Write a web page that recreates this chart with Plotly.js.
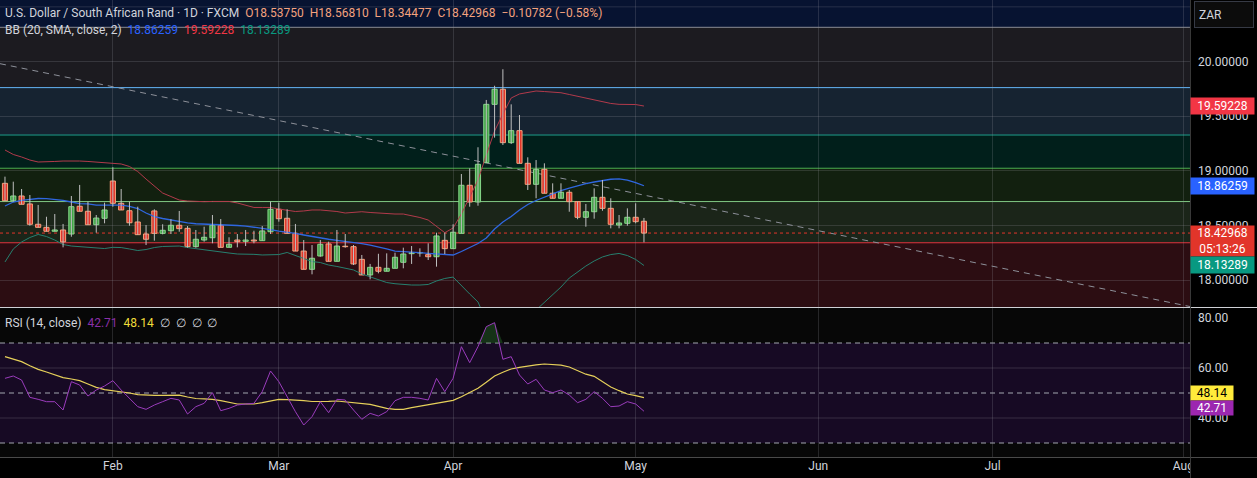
<!DOCTYPE html>
<html><head><meta charset="utf-8">
<script src="https://cdn.plot.ly/plotly-3.0.1.min.js"></script>
<style>html,body{margin:0;padding:0;background:#000;}#chart{width:1257px;height:478px;}</style>
</head><body><div id="chart"></div>
<script>
// ---------- DATA ----------
const dates = ['2025-01-15','2025-01-16','2025-01-17','2025-01-20','2025-01-21','2025-01-22','2025-01-23','2025-01-24','2025-01-27','2025-01-28','2025-01-29','2025-01-30','2025-01-31',
'2025-02-03','2025-02-04','2025-02-05','2025-02-06','2025-02-07','2025-02-10','2025-02-11','2025-02-12','2025-02-13','2025-02-14','2025-02-17','2025-02-18','2025-02-19','2025-02-20','2025-02-21','2025-02-24','2025-02-25','2025-02-26','2025-02-27','2025-02-28',
'2025-03-03','2025-03-04','2025-03-05','2025-03-06','2025-03-07','2025-03-10','2025-03-11','2025-03-12','2025-03-13','2025-03-14','2025-03-17','2025-03-18','2025-03-19','2025-03-20','2025-03-21','2025-03-24','2025-03-25','2025-03-26','2025-03-27','2025-03-28','2025-03-31',
'2025-04-01','2025-04-02','2025-04-03','2025-04-04','2025-04-07','2025-04-08','2025-04-09','2025-04-10','2025-04-11','2025-04-14','2025-04-15','2025-04-16','2025-04-17','2025-04-18','2025-04-21','2025-04-22','2025-04-23','2025-04-24','2025-04-25','2025-04-28','2025-04-29','2025-04-30',
'2025-05-01','2025-05-02'];

const open = [18.885,18.726,18.769,18.696,18.510,18.482,18.446,18.458,18.421,18.675,
18.629,18.506,18.565,18.906,18.702,18.634,18.531,18.421,18.632,18.427,
18.451,18.501,18.473,18.305,18.366,18.387,18.501,18.299,18.366,18.354,
18.366,18.360,18.442,18.647,18.565,18.427,18.265,18.098,18.220,18.330,
18.171,18.308,18.305,18.189,18.046,18.116,18.080,18.107,18.162,18.241,
18.247,18.232,18.213,18.363,18.287,18.427,18.867,18.714,19.074,19.608,
19.746,19.257,19.367,19.068,18.876,19.013,18.794,18.748,18.803,18.717,
18.574,18.625,18.757,18.656,18.503,18.519,18.574,18.5375];
const high = [18.946,18.900,18.833,18.778,18.687,18.579,18.604,18.513,18.769,18.870,
18.717,18.595,18.708,19.032,18.833,18.717,18.671,18.503,18.647,18.510,
18.556,18.632,18.494,18.458,18.488,18.595,18.558,18.391,18.421,18.458,
18.451,18.494,18.717,18.708,18.647,18.513,18.366,18.320,18.366,18.351,
18.458,18.421,18.320,18.229,18.147,18.240,18.244,18.250,18.296,18.311,
18.290,18.336,18.433,18.433,18.510,18.970,19.022,19.215,19.648,19.778,
19.929,19.608,19.510,19.123,19.098,19.068,18.885,18.885,18.824,18.717,
18.696,18.839,18.915,18.748,18.595,18.656,18.702,18.5681];
const low = [18.726,18.717,18.693,18.497,18.482,18.446,18.446,18.299,18.396,18.629,
18.506,18.433,18.519,18.671,18.641,18.497,18.415,18.320,18.360,18.418,
18.421,18.442,18.296,18.296,18.351,18.336,18.299,18.299,18.299,18.311,
18.336,18.360,18.421,18.534,18.427,18.265,18.098,18.052,18.213,18.171,
18.171,18.296,18.137,18.046,18.006,18.061,18.080,18.107,18.107,18.147,
18.213,18.183,18.122,18.238,18.287,18.427,18.671,18.680,19.074,19.303,
19.236,19.245,19.068,18.824,18.748,18.794,18.748,18.748,18.625,18.556,
18.488,18.561,18.634,18.473,18.473,18.497,18.519,18.34477];
const close = [18.726,18.769,18.693,18.510,18.482,18.446,18.458,18.349,18.671,18.629,
18.506,18.567,18.641,18.702,18.641,18.524,18.415,18.373,18.427,18.455,
18.501,18.470,18.305,18.373,18.391,18.501,18.299,18.327,18.351,18.366,
18.357,18.449,18.647,18.561,18.427,18.265,18.098,18.199,18.327,18.171,
18.311,18.305,18.147,18.046,18.116,18.080,18.107,18.208,18.238,18.250,
18.248,18.213,18.403,18.287,18.437,18.867,18.714,19.059,19.608,19.746,
19.257,19.367,19.068,18.876,19.013,18.794,18.748,18.803,18.717,18.574,
18.625,18.757,18.656,18.510,18.522,18.574,18.534,18.42968];

const bbUpper = [19.190,19.149,19.126,19.098,19.080,19.080,19.085,19.089,19.092,19.089,
19.085,19.080,19.076,19.071,19.062,19.039,18.993,18.924,18.860,18.796,
18.764,18.732,18.723,18.719,18.717,18.719,18.720,18.719,18.705,18.686,
18.664,18.664,18.664,18.650,18.636,18.627,18.632,18.641,18.641,18.636,
18.627,18.613,18.618,18.625,18.618,18.611,18.609,18.604,18.604,18.590,
18.572,18.549,18.490,18.433,18.476,18.604,18.760,18.915,19.144,19.364,
19.519,19.666,19.703,19.718,19.730,19.725,19.721,19.714,19.698,19.682,
19.666,19.648,19.629,19.616,19.608,19.608,19.606,19.59228];
const bbBasis = [18.677,18.714,18.728,18.737,18.746,18.744,18.739,18.728,18.714,18.700,
18.696,18.686,18.686,18.686,18.686,18.673,18.654,18.613,18.581,18.563,
18.549,18.535,18.522,18.515,18.513,18.509,18.506,18.503,18.499,18.494,
18.485,18.473,18.462,18.448,18.439,18.426,18.412,18.398,18.384,18.373,
18.363,18.355,18.343,18.332,18.320,18.305,18.284,18.265,18.258,18.254,
18.250,18.244,18.238,18.233,18.229,18.261,18.297,18.334,18.384,18.467,
18.531,18.581,18.641,18.691,18.728,18.760,18.792,18.819,18.842,18.863,
18.882,18.897,18.911,18.922,18.926,18.915,18.892,18.86259];
const bbLower = [18.165,18.284,18.348,18.389,18.417,18.398,18.366,18.325,18.311,18.305,
18.297,18.290,18.288,18.299,18.297,18.284,18.270,18.279,18.297,18.307,
18.308,18.311,18.297,18.286,18.276,18.267,18.258,18.247,18.238,18.238,
18.235,18.229,18.233,18.233,18.252,18.224,18.197,18.169,18.160,18.137,
18.124,18.110,18.092,18.055,18.027,18.000,17.977,17.966,17.959,17.954,
17.954,17.959,17.991,18.014,18.027,17.945,17.872,17.799,17.625,17.570,
17.538,17.497,17.579,17.664,17.725,17.795,17.863,17.936,18.018,18.073,
18.128,18.174,18.211,18.233,18.243,18.224,18.188,18.13289];

const rsi = [55.87,56.80,55.20,48.27,47.47,46.53,46.53,43.20,54.53,53.20,
48.80,51.20,52.80,54.93,51.20,47.87,44.53,43.47,45.20,46.53,
47.87,47.20,41.60,44.53,45.87,50.13,42.93,43.87,45.20,45.60,
45.87,50.53,58.80,54.53,48.27,42.53,37.20,40.53,46.53,42.13,
47.47,47.20,43.20,39.47,41.87,40.80,42.53,46.93,48.27,48.27,
47.87,47.20,55.87,50.53,55.87,68.53,62.13,68.53,76.53,78.13,
63.47,64.53,57.20,53.60,55.47,51.20,50.13,51.20,49.20,46.13,
47.47,50.53,47.87,44.53,44.80,46.53,45.60,42.71];
const rsiMA = [64.53,63.47,62.53,60.93,59.47,58.40,57.20,56.13,55.60,54.93,
53.60,52.27,51.33,50.93,50.53,50.00,49.33,49.07,49.07,49.07,
49.13,49.13,48.40,47.80,47.67,47.47,46.93,46.13,45.60,45.60,
45.60,46.13,46.93,47.47,47.33,47.20,46.93,46.60,46.53,46.67,
46.80,46.53,46.07,45.73,45.47,44.67,43.87,43.47,43.47,44.13,
44.73,45.27,45.80,46.40,47.07,48.53,50.13,51.87,54.27,56.80,
58.33,59.60,60.27,60.87,61.27,61.60,61.47,61.13,60.40,59.07,
57.53,56.67,54.67,52.40,50.93,49.60,48.93,48.14];

// Fibonacci retracement levels (price) and the drawn trend line (price at left / right edge)
const fibLevels = [17.732, 18.341, 18.718, 19.023, 19.327, 19.761, 20.313];
const trendStart = 19.980, trendEnd = 17.757;

const monthTicks = ['2025-02-03','2025-03-03','2025-04-01','2025-05-01','2025-06-02','2025-07-01','2025-08-01'];
const monthLabels = ['Feb','Mar','Apr','May','Jun','Jul','Aug'];
const priceTicks = [18, 18.5, 19, 19.5, 20];
const hiddenGrid = [20.5];
const rsiTicks = [40, 60, 80];
const countdown = '05:13:26';

// ---------- STYLE ----------
const FONT = 'Roboto, "Open Sans", sans-serif';
const TXT = '#d1d4dc';
const upFill = '#43a348', upLine = '#86d889', dnFill = '#e2352a', dnLine = '#f6a27c';
const bandFill = ['#2c0d12','#1b2519','#12200f','#011f1b','#162331','#1c1b20'];
const fibLine  = ['#787b86','#e0343f','#81c784','#4caf50','#1e9c8a','#64b5f6','#8a8d96'];
const gridC = 'rgba(150,150,160,0.22)';

const n = dates.length;
const last = n - 1;

// wicks
const wx = [], wy = [];
for (let i = 0; i < n; i++) { wx.push(dates[i], dates[i], null); wy.push(low[i], high[i], null); }
const isUp = close.map((c, i) => c >= open[i]);

const traces = [
  {x: dates, y: bbUpper, type:'scatter', mode:'lines', line:{color:'#b23a4b', width:1}, xaxis:'x', yaxis:'y', hoverinfo:'skip'},
  {x: dates, y: bbBasis, type:'scatter', mode:'lines', line:{color:'#2f67e0', width:1.3}, xaxis:'x', yaxis:'y', hoverinfo:'skip'},
  {x: dates, y: bbLower, type:'scatter', mode:'lines', line:{color:'#26806f', width:1}, xaxis:'x', yaxis:'y', hoverinfo:'skip'},
  {x: wx, y: wy, type:'scatter', mode:'lines', line:{color:'#bfbfbf', width:1}, xaxis:'x', yaxis:'y', connectgaps:false, hoverinfo:'skip'},
  {x: dates, base: open.map((o,i)=>Math.min(o, close[i])), y: open.map((o,i)=>Math.max(Math.abs(close[i]-o), 0.004)),
   type:'bar', width: 0.62*86400000, xaxis:'x', yaxis:'y',
   marker:{color: isUp.map(u=>u?upFill:dnFill), line:{color: isUp.map(u=>u?upLine:dnLine), width:1}}, hoverinfo:'skip'},
  // RSI overbought fill
  {x: dates, y: rsi.map(v=>Math.max(v,70)), type:'scatter', mode:'lines', line:{width:0, color:'rgba(0,0,0,0)'}, xaxis:'x2', yaxis:'y2', hoverinfo:'skip'},
  {x: dates, y: dates.map(()=>70), type:'scatter', mode:'lines', line:{width:0, color:'rgba(0,0,0,0)'}, fill:'tonexty', fillcolor:'rgba(40,110,45,0.42)', xaxis:'x2', yaxis:'y2', hoverinfo:'skip'},
  {x: dates, y: rsiMA, type:'scatter', mode:'lines', line:{color:'#e6d05a', width:1.2}, xaxis:'x2', yaxis:'y2', hoverinfo:'skip'},
  {x: dates, y: rsi, type:'scatter', mode:'lines', line:{color:'#9a3cbc', width:1}, xaxis:'x2', yaxis:'y2', hoverinfo:'skip'}
];

const shapes = [];
// top band above fib 1.0
shapes.push({type:'rect', xref:'paper', x0:0, x1:1, yref:'y', y0:fibLevels[6], y1:20.6, fillcolor:'#071331', line:{width:0}, layer:'below'});
for (let k = 0; k < 6; k++) {
  shapes.push({type:'rect', xref:'paper', x0:0, x1:1, yref:'y', y0:fibLevels[k], y1:fibLevels[k+1], fillcolor:bandFill[k], line:{width:0}, layer:'below'});
}
hiddenGrid.forEach(v => shapes.push({type:'line', xref:'paper', x0:0, x1:1, yref:'y', y0:v, y1:v, line:{color:gridC, width:1}, layer:'between'}));
for (let k = 1; k < 7; k++) {
  shapes.push({type:'line', xref:'paper', x0:0, x1:1, yref:'y', y0:fibLevels[k], y1:fibLevels[k], line:{color:fibLine[k], width:1}, layer:'between'});
}
// trend line
shapes.push({type:'line', xref:'paper', x0:0, x1:1, yref:'y', y0:trendStart, y1:trendEnd, line:{color:'#8d9099', width:1, dash:'6px,5px'}, layer:'between'});
// last close dotted
shapes.push({type:'line', xref:'paper', x0:0, x1:1, yref:'y', y0:close[last], y1:close[last], line:{color:'#e2352a', width:1, dash:'dot'}, layer:'between'});
// RSI band and levels
shapes.push({type:'rect', xref:'paper', x0:0, x1:1, yref:'y2', y0:30, y1:70, fillcolor:'#170a24', line:{width:0}, layer:'below'});
[70,50,30].forEach(v => shapes.push({type:'line', xref:'paper', x0:0, x1:1, yref:'y2', y0:v, y1:v, line:{color:'#a3a6af', width:1, dash:'5px,4px'}, layer:'between'}));
[40,60].forEach(v => shapes.push({type:'line', xref:'paper', x0:0, x1:1, yref:'y2', y0:v, y1:v, line:{color:'rgba(150,150,160,0.25)', width:1}, layer:'between'}));
// separators
const PH = 457;
const sepY = (457-307.5)/PH;
shapes.push({type:'line', xref:'paper', yref:'paper', x0:0, x1:1257/1190, y0:sepY, y1:sepY, line:{color:'#cfd1d6', width:1}, layer:'above'});
shapes.push({type:'line', xref:'paper', yref:'paper', x0:0, x1:1257/1190, y0:-0.5/PH, y1:-0.5/PH, line:{color:'#4a4a4a', width:1}, layer:'above'});
shapes.push({type:'rect', xref:'paper', yref:'paper', x0:1, x1:1257/1190, y0:-21/PH, y1:-1/PH, fillcolor:'#000', line:{width:0}, layer:'above'});
shapes.push({type:'line', xref:'paper', yref:'paper', x0:1.0004, x1:1.0004, y0:-21/PH, y1:1, line:{color:'#3a3a3a', width:1}, layer:'above'});

const fmt5 = v => v.toFixed(5);
const chg = close[last] - open[last];
const pct = chg / open[last] * 100;
const signed = (v, d) => (v < 0 ? '\u2212' : '+') + Math.abs(v).toFixed(d);
const SP = '\u00a0\u00a0';
const ohlcColor = '#f4a27e';

const annotations = [
  {xref:'paper', yref:'paper', x:0, y:1, xanchor:'left', yanchor:'top', xshift:3, yshift:-4, showarrow:false, align:'left',
   font:{family:FONT, size:12, color:TXT},
   text:'U.S. Dollar / South African Rand \u00b7 1D \u00b7 FXCM' + SP + '<span style="color:'+ohlcColor+'">O' + fmt5(open[last]) + SP + 'H' + fmt5(high[last]) + SP + 'L' + fmt5(low[last]) + SP + 'C' + fmt5(close[last]) + SP + signed(chg,5) + ' (' + signed(pct,2) + '%)</span>'},
  {xref:'paper', yref:'paper', x:0, y:1, xanchor:'left', yanchor:'top', xshift:3, yshift:-21, showarrow:false, align:'left',
   font:{family:FONT, size:12, color:TXT},
   text:'BB (20, SMA, close, 2)' + SP + '<span style="color:#2962ff">' + fmt5(bbBasis[last]) + '</span>' + SP + '<span style="color:#f23645">' + fmt5(bbUpper[last]) + '</span>' + SP + '<span style="color:#089981">' + fmt5(bbLower[last]) + '</span>'},
  {xref:'paper', yref:'paper', x:0, y:(457-308)/PH, xanchor:'left', yanchor:'top', xshift:3, yshift:-6, showarrow:false, align:'left',
   font:{family:FONT, size:12, color:TXT},
   text:'RSI (14, close)' + SP + '<span style="color:#8a2fa8">' + rsi[last].toFixed(2) + '</span>' + SP + '<span style="color:#f0dc3a">' + rsiMA[last].toFixed(2) + '</span>' + SP + '\u2205' + SP + '\u2205' + SP + '\u2205' + SP + '\u2205'},
  // ZAR box
  {xref:'paper', yref:'paper', x:1, y:1, xanchor:'left', yanchor:'top', xshift:4, yshift:-1, showarrow:false, align:'left',
   width:50, height:17, borderpad:4, bgcolor:'#0c0c0c', bordercolor:'#363a45', borderwidth:1,
   font:{family:FONT, size:12, color:TXT}, text:'ZAR'},
  // price labels
  {xref:'paper', yref:'y', x:1, y:bbUpper[last], xanchor:'left', yanchor:'middle', showarrow:false, width:61, height:14, borderpad:1,
   bgcolor:'#f23645', font:{family:FONT, size:12, color:'#fff'}, text:fmt5(bbUpper[last])},
  {xref:'paper', yref:'y', x:1, y:bbBasis[last], xanchor:'left', yanchor:'middle', showarrow:false, width:61, height:14, borderpad:1,
   bgcolor:'#2962ff', font:{family:FONT, size:12, color:'#fff'}, text:fmt5(bbBasis[last])},
  {xref:'paper', yref:'y', x:1, y:close[last], xanchor:'left', yanchor:'top', yshift:8, showarrow:false, width:61, height:28, borderpad:1,
   bgcolor:'#e2352a', font:{family:FONT, size:12, color:'#fff'}, text:fmt5(close[last]) + '<br>' + countdown},
  {xref:'paper', yref:'y', x:1, y:bbLower[last], xanchor:'left', yanchor:'middle', showarrow:false, width:61, height:14, borderpad:1,
   bgcolor:'#089981', font:{family:FONT, size:12, color:'#fff'}, text:fmt5(bbLower[last])},
  {xref:'paper', yref:'y2', x:1, y:rsiMA[last], xanchor:'left', yanchor:'middle', yshift:4.3, showarrow:false, width:40, height:12, borderpad:1,
   bgcolor:'#ffeb3b', font:{family:FONT, size:12, color:'#000'}, text:rsiMA[last].toFixed(2)},
  {xref:'paper', yref:'y2', x:1, y:rsi[last], xanchor:'left', yanchor:'middle', yshift:3.2, showarrow:false, width:40, height:12, borderpad:1,
   bgcolor:'#9c27b0', font:{family:FONT, size:12, color:'#fff'}, text:rsi[last].toFixed(2)}
];

const xCommon = {type:'date', range:['2025-01-14 09:36','2025-08-01 19:12'], rangebreaks:[{bounds:['sat','mon']}],
  tickvals: monthTicks, ticktext: monthLabels, showgrid:true, gridcolor:gridC, gridwidth:1, zeroline:false, showline:false, ticks:'',
  tickfont:{family:FONT, size:12, color:TXT}, fixedrange:true};

const layout = {
  width:1257, height:478,
  margin:{l:0, r:67, t:0, b:21, pad:0},
  paper_bgcolor:'#000', plot_bgcolor:'#070707',
  showlegend:false, barmode:'overlay', bargap:0, hovermode:false,
  xaxis: Object.assign({}, xCommon, {anchor:'y', showticklabels:false, domain:[0,1]}),
  xaxis2: Object.assign({}, xCommon, {anchor:'y2', matches:'x', showticklabels:true, domain:[0,1]}),
  yaxis: {domain:[(457-307)/PH, 1], range:[17.7529, 20.5629], side:'right', tickvals:priceTicks, tickformat:'.5f',
    showgrid:true, gridcolor:gridC, zeroline:false, showline:false, ticks:'', ticklabelstandoff:7,
    tickfont:{family:FONT, size:12, color:TXT}, fixedrange:true},
  yaxis2: {domain:[0, (457-308)/PH], range:[24.4, 84], side:'right', tickvals:rsiTicks, tickformat:'.2f',
    showgrid:false, zeroline:false, showline:false, ticks:'', ticklabelstandoff:7,
    tickfont:{family:FONT, size:12, color:TXT}, fixedrange:true},
  shapes: shapes,
  annotations: annotations
};

Plotly.newPlot('chart', traces, layout, {staticPlot:true, displayModeBar:false});
</script></body></html>
